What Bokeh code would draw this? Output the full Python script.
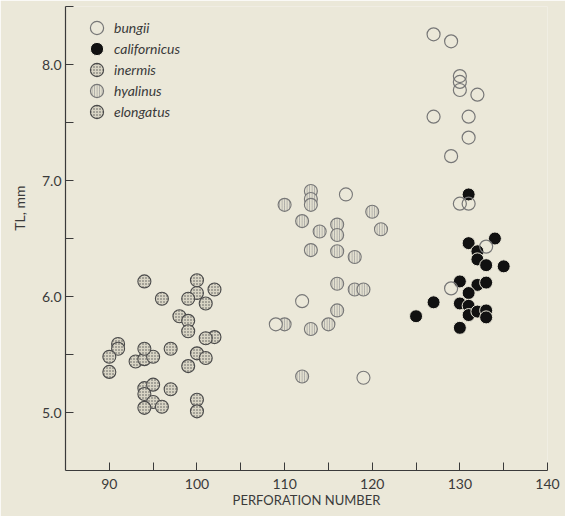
from bokeh.plotting import figure
from bokeh.models import Range1d, FixedTicker, PrintfTickFormatter, Legend, LegendItem, Title
from bokeh.embed import file_html
from bokeh.resources import INLINE

# ---------------- data ----------------
bungii_x = [127, 129, 130, 130, 130, 132, 127, 131, 131, 129, 130, 131, 133, 129]
bungii_y = [8.26, 8.20, 7.90, 7.85, 7.78, 7.74, 7.55, 7.55, 7.37, 7.21, 6.80, 6.80, 6.43, 6.07]

californicus_x = [131, 131, 134, 132, 132, 133, 135, 130, 132, 133, 131, 130, 131, 131,
                  132, 133, 133, 127, 125, 130]
californicus_y = [6.88, 6.46, 6.50, 6.39, 6.32, 6.27, 6.26, 6.13, 6.10, 6.12, 6.03, 5.94, 5.92, 5.84,
                  5.87, 5.88, 5.82, 5.95, 5.83, 5.73]

inermis_x = [94, 96, 91, 91, 90, 90, 93, 94, 95, 94, 97, 94, 95, 97, 94, 95, 96, 94]
inermis_y = [6.13, 5.98, 5.59, 5.55, 5.48, 5.35, 5.44, 5.46, 5.48, 5.55, 5.55, 5.21, 5.24, 5.20,
             5.16, 5.09, 5.05, 5.04]

hyalinus_x = [113, 113, 113, 110, 120, 112, 114, 116, 116, 121, 113, 116, 118, 116, 118, 119,
              116, 110, 113, 115, 112]
hyalinus_y = [6.91, 6.84, 6.79, 6.79, 6.73, 6.65, 6.56, 6.62, 6.53, 6.58, 6.40, 6.39, 6.34, 6.11,
              6.06, 6.06, 5.88, 5.76, 5.72, 5.76, 5.31]
hyalinus_plain_x = [117, 112, 109, 119]
hyalinus_plain_y = [6.88, 5.96, 5.76, 5.30]

elongatus_x = [100, 102, 100, 99, 101, 98, 99, 99, 102, 101, 100, 101, 99, 100, 100]
elongatus_y = [6.14, 6.06, 6.03, 5.98, 5.94, 5.83, 5.79, 5.70, 5.65, 5.64, 5.51, 5.47, 5.40, 5.11, 5.01]

species = ["bungii", "californicus", "inermis", "hyalinus", "elongatus"]

x_major = [90, 100, 110, 120, 130, 140]
x_minor = [95, 105, 115, 125, 135]
y_major = [5.0, 6.0, 7.0, 8.0]
y_minor = [5.5, 6.5, 7.5, 8.5]

# ---------------- styling ----------------
BG = "#ebe8d9"
INK = "#3a3a3a"
FONT = "Lato"

p = figure(width=565, height=516, x_range=Range1d(85, 140), y_range=Range1d(4.5, 8.5),
           output_backend="svg", toolbar_location=None,
           min_border_left=58, min_border_right=18, min_border_top=6, min_border_bottom=46,
           background_fill_color=BG, border_fill_color=BG, outline_line_color=None)
p.xgrid.grid_line_color = None
p.ygrid.grid_line_color = None

SIZE = 13
STIP = dict(size=SIZE, marker="circle", fill_color="#d9d5c5", line_color="#4a4a4a",
            line_width=1.1, hatch_pattern="dot", hatch_color="#555555",
            hatch_scale=3, hatch_weight=0.8)
r_in = p.scatter(inermis_x, inermis_y, **STIP)
r_el = p.scatter(elongatus_x, elongatus_y, **STIP)
r_hy = p.scatter(hyalinus_x, hyalinus_y, size=SIZE, marker="circle", fill_color="#e2dfcf",
                 line_color="#777777", line_width=1.1, hatch_pattern="vertical_line",
                 hatch_color="#9a9a9a", hatch_scale=2.5, hatch_weight=0.8)
r_hp = p.scatter(hyalinus_plain_x, hyalinus_plain_y, size=SIZE, marker="circle", fill_color=BG,
                 line_color="#777777", line_width=1.1)
r_ca = p.scatter(californicus_x, californicus_y, size=SIZE, marker="circle", fill_color="#111111",
                 line_color=BG, line_width=1.0)
r_bu = p.scatter(bungii_x, bungii_y, size=SIZE, marker="circle", fill_alpha=0,
                 line_color="#777777", line_width=1.2)

# axes
for ax in (p.xaxis[0], p.yaxis[0]):
    ax.axis_line_color = INK
    ax.axis_line_width = 1.2
    ax.major_tick_line_color = INK
    ax.minor_tick_line_color = INK
    ax.major_tick_in = 8
    ax.major_tick_out = 0
    ax.minor_tick_in = 8
    ax.minor_tick_out = 0
    ax.major_label_text_font = FONT
    ax.major_label_text_color = INK
    ax.major_label_text_font_size = "14px"

p.xaxis.ticker = FixedTicker(ticks=x_major, minor_ticks=x_minor)
p.yaxis.ticker = FixedTicker(ticks=y_major, minor_ticks=y_minor)
p.yaxis.formatter = PrintfTickFormatter(format="%.1f")
p.xaxis.major_label_standoff = 8
p.yaxis.major_label_standoff = 4
p.xaxis.axis_label = "PERFORATION NUMBER"
p.xaxis.axis_label_text_font = FONT
p.xaxis.axis_label_text_font_style = "normal"
p.xaxis.axis_label_text_font_size = "13px"
p.xaxis.axis_label_text_color = INK
p.xaxis.axis_label_standoff = 0

# y-axis title (placed high on the left, as in the reference)
p.add_layout(Title(text="TL, mm", align="right", vertical_align="middle", offset=179,
                   standoff=19, text_font=FONT, text_font_style="normal",
                   text_font_size="14px", text_color=INK), "left")

# legend: one single-entry legend per row so that the symbols stay large
renderers = [r_bu, r_ca, r_in, r_hy, r_el]
row_vy = [426, 405, 384, 363, 342]
for name, rend, vy in zip(species, renderers, row_vy):
    lg = Legend(items=[LegendItem(label=name, renderers=[rend])],
                location=(15, vy), glyph_width=33, glyph_height=33,
                label_height=21, padding=0, margin=0, label_standoff=1,
                background_fill_alpha=0, border_line_color=None,
                label_text_font=FONT, label_text_font_style="italic",
                label_text_font_size="14px", label_text_color=INK)
    p.add_layout(lg)

open("out.html", "w").write(file_html(p, INLINE))
